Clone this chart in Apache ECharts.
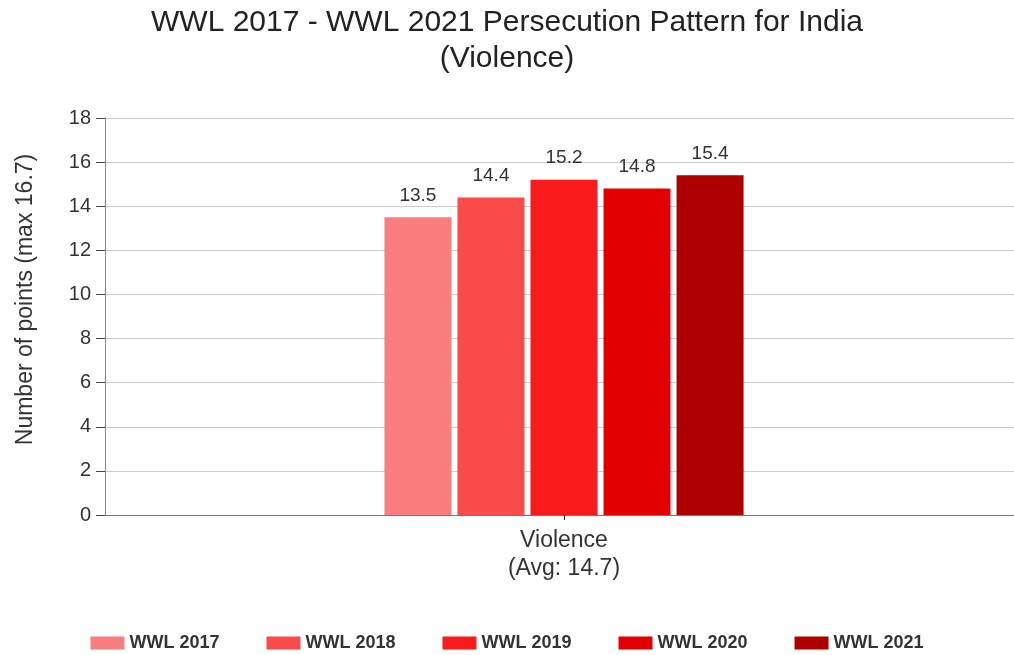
<!DOCTYPE html>
<html>
<head>
<meta charset="utf-8">
<script src="https://cdn.jsdelivr.net/npm/echarts@6/dist/echarts.min.js"></script>
<style>
html,body{margin:0;padding:0;background:#fff;}
#chart{width:1014px;height:655px;}
</style>
</head>
<body>
<div id="chart"></div>
<script>
var titleText = 'WWL 2017 - WWL 2021 Persecution Pattern for India\n(Violence)';
var categories = ['Violence\n(Avg: 14.7)'];
var seriesNames = ['WWL 2017', 'WWL 2018', 'WWL 2019', 'WWL 2020', 'WWL 2021'];
var seriesValues = [[13.5], [14.4], [15.2], [14.8], [15.4]];
var seriesColors = ['#FB7E7E', '#FA4B4B', '#F91B1B', '#E30000', '#AE0000'];
var yAxisName = 'Number of points (max 16.7)';
var yMin = 0, yMax = 18, yInterval = 2;

var FONT = '"Liberation Sans", Arial, sans-serif';
var chart = echarts.init(document.getElementById('chart'), null, {renderer: 'canvas'});

var series = seriesNames.map(function (name, i) {
  return {
    name: name,
    type: 'bar',
    data: seriesValues[i],
    barWidth: 67,
    barGap: '9%',
    itemStyle: {color: seriesColors[i]},
    label: {
      show: true,
      position: 'top',
      distance: 12,
      color: '#333',
      fontFamily: FONT,
      fontSize: 19
    }
  };
});

chart.setOption({
  animation: false,
  backgroundColor: '#fff',
  title: {
    text: titleText,
    left: 'center',
    top: 0,
    textStyle: {
      fontFamily: FONT,
      fontSize: 30,
      fontWeight: 'normal',
      color: '#222',
      lineHeight: 36
    }
  },
  legend: {
    top: 629,
    left: 'center',
    itemWidth: 34,
    itemHeight: 13,
    itemGap: 47,
    icon: 'rect',
    textStyle: {
      fontFamily: FONT,
      fontSize: 18,
      fontWeight: 'bold',
      color: '#333'
    },
    data: seriesNames
  },
  grid: {
    left: 105,
    width: 918,
    top: 118,
    height: 397,
    containLabel: false,
    outerBoundsMode: 'none'
  },
  xAxis: {
    type: 'category',
    data: categories,
    axisLine: {show: true, lineStyle: {color: '#777', width: 1}},
    axisTick: {show: true, alignWithLabel: true, length: 5, lineStyle: {color: '#333'}},
    axisLabel: {
      fontFamily: FONT,
      fontSize: 23,
      color: '#333',
      lineHeight: 28,
      margin: 12
    }
  },
  yAxis: {
    type: 'value',
    min: yMin,
    max: yMax,
    interval: yInterval,
    name: yAxisName,
    nameLocation: 'middle',
    nameGap: 68,
    nameTextStyle: {
      fontFamily: FONT,
      fontSize: 23,
      color: '#333',
      padding: [0, 0, 0, 34]
    },
    axisLine: {show: true, lineStyle: {color: '#888', width: 1}},
    axisTick: {show: true, length: 9, lineStyle: {color: '#444'}},
    axisLabel: {
      fontFamily: FONT,
      fontSize: 20,
      color: '#333',
      margin: 14
    },
    splitLine: {show: true, lineStyle: {color: '#ccc', width: 1}}
  },
  series: series
});
</script>
</body>
</html>
